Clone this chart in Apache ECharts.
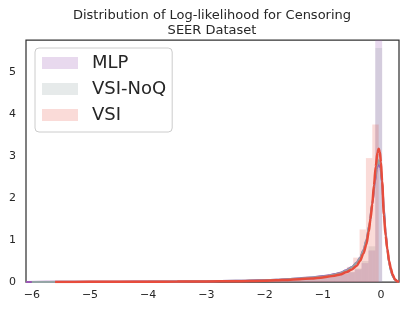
<!DOCTYPE html>
<html>
<head>
<meta charset="utf-8">
<script src="https://cdn.jsdelivr.net/npm/echarts@6/dist/echarts.min.js"></script>
<style>html,body{margin:0;padding:0;background:#fff;}#c{width:407px;height:312px;}</style>
</head>
<body>
<div id="c"></div>
<script>
// ---- data ----
const seriesNames = ['MLP', 'VSI-NoQ', 'VSI'];
const xTicks = [-6, -5, -4, -3, -2, -1, 0];
const yTicks = [0, 1, 2, 3, 4, 5];

// histogram bins (first edge, bin width) and densities (50 bins each)
const mlpBinStart = -5.9, mlpBinWidth = 0.1184;
const mlpHist = [0.003, 0, 0.004, 0.003, 0.005, 0.004, 0.006, 0.005, 0.007, 0.006,
  0.008, 0.007, 0.009, 0.01, 0.009, 0.011, 0.012, 0.012, 0.014, 0.013,
  0.015, 0.017, 0.016, 0.019, 0.021, 0.022, 0.025, 0.027, 0.03, 0.033,
  0.036, 0.04, 0.043, 0.048, 0.052, 0.058, 0.065, 0.073, 0.082, 0.095,
  0.11, 0.125, 0.14, 0.16, 0.19, 0.23, 0.3, 0.45, 0.75, 6.3];

const noqBinStart = -5.8, noqBinWidth = 0.1164;
const noqHist = [0.002, 0.003, 0, 0.004, 0.004, 0.005, 0.005, 0.006, 0.006, 0.007,
  0.007, 0.008, 0.009, 0.009, 0.01, 0.011, 0.012, 0.013, 0.013, 0.015,
  0.016, 0.017, 0.019, 0.02, 0.022, 0.024, 0.026, 0.029, 0.032, 0.035,
  0.038, 0.042, 0.046, 0.05, 0.055, 0.061, 0.068, 0.076, 0.085, 0.092,
  0.105, 0.12, 0.14, 0.16, 0.19, 0.24, 0.32, 0.5, 0.85, 5.57];

const vsiBinStart = -5.4, vsiBinWidth = 0.1094;
const vsiHist = [0.002, 0.002, 0.003, 0.003, 0.004, 0.004, 0.005, 0.005, 0.006, 0.006,
  0.007, 0.007, 0.008, 0.009, 0.009, 0.01, 0.011, 0.012, 0.013, 0.014,
  0.015, 0.016, 0.018, 0.02, 0.022, 0.024, 0.026, 0.028, 0.03, 0.033,
  0.037, 0.042, 0.047, 0.053, 0.06, 0.068, 0.077, 0.088, 0.1, 0.12,
  0.14, 0.16, 0.2, 0.26, 0.36, 0.58, 1.25, 2.95, 3.75, 0];

// KDE curves: [x, density]
const mlpKde = [[-6.1,0.001],[-5.5,0.004],[-5,0.006],[-4.5,0.008],[-4,0.01],[-3.5,0.014],[-3,0.02],[-2.5,0.03],
  [-2,0.045],[-1.8,0.055],[-1.6,0.07],[-1.4,0.09],[-1.2,0.11],[-1.0,0.14],[-0.9,0.16],[-0.8,0.19],[-0.7,0.22],
  [-0.6,0.28],[-0.5,0.36],[-0.42,0.46],[-0.36,0.58],[-0.3,0.76],[-0.25,1.0],[-0.2,1.35],[-0.15,1.85],[-0.1,2.4],
  [-0.07,2.7],[-0.04,2.83],[-0.01,2.72],[0.02,2.35],[0.05,1.75],[0.08,1.2],[0.11,0.78],[0.14,0.47],[0.17,0.28],
  [0.2,0.15],[0.24,0.06],[0.28,0.02],[0.31,0.01]];
const noqKde = [[-6.0,0.001],[-5.5,0.003],[-5,0.005],[-4.5,0.007],[-4,0.009],[-3.5,0.013],[-3,0.019],[-2.5,0.028],
  [-2,0.042],[-1.8,0.052],[-1.6,0.066],[-1.4,0.085],[-1.2,0.105],[-1.0,0.13],[-0.9,0.15],[-0.8,0.18],[-0.7,0.21],
  [-0.6,0.27],[-0.5,0.35],[-0.42,0.45],[-0.36,0.57],[-0.3,0.75],[-0.25,1.0],[-0.2,1.36],[-0.15,1.88],[-0.1,2.45],
  [-0.07,2.76],[-0.04,2.9],[-0.01,2.78],[0.02,2.38],[0.05,1.72],[0.08,1.16],[0.11,0.76],[0.14,0.46],[0.17,0.27],
  [0.2,0.14],[0.24,0.055],[0.28,0.018],[0.31,0.008]];
const vsiKde = [[-5.6,0],[-5,0.003],[-4.5,0.005],[-4,0.007],[-3.5,0.01],[-3,0.014],[-2.5,0.02],[-2,0.032],
  [-1.8,0.04],[-1.6,0.05],[-1.4,0.065],[-1.2,0.085],[-1.0,0.11],[-0.9,0.13],[-0.8,0.15],[-0.7,0.18],[-0.6,0.23],
  [-0.5,0.3],[-0.42,0.38],[-0.36,0.5],[-0.3,0.68],[-0.25,0.9],[-0.21,1.2],[-0.18,1.5],[-0.15,1.85],[-0.12,2.3],
  [-0.09,2.75],[-0.06,3.08],[-0.04,3.17],[-0.02,3.1],[0.0,2.85],[0.02,2.4],[0.05,1.6],[0.08,1.1],[0.11,0.78],
  [0.14,0.5],[0.17,0.32],[0.2,0.18],[0.24,0.06],[0.28,0.015],[0.31,0.005]];

// ---- styles ----
const FONT = 'DejaVu Sans';
const TXT = '#262626';
const lineColors = ['#9b59b6', '#95a5a6', '#e74c3c'];
const histColors = ['rgba(155,89,182,0.23)', 'rgba(149,165,166,0.23)', 'rgba(231,76,60,0.2)'];

function binData(start, width, heights) {
  return heights.map((h, i) => [start + i * width, start + (i + 1) * width, h]);
}

function histSeries(name, color, data) {
  return {
    name: name,
    type: 'custom',
    clip: true,
    itemStyle: { color: color },
    encode: { x: [0, 1], y: 2 },
    data: data,
    renderItem: function (params, api) {
      const p0 = api.coord([api.value(0), api.value(2)]);
      const p1 = api.coord([api.value(1), 0]);
      return {
        type: 'rect',
        shape: { x: p0[0], y: p0[1], width: p1[0] - p0[0], height: p1[1] - p0[1] },
        style: { fill: color }
      };
    }
  };
}

function kdeSeries(name, color, width, data) {
  return {
    name: name,
    type: 'line',
    data: data,
    showSymbol: false,
    smooth: 0.3,
    smoothMonotone: 'x',
    clip: true,
    lineStyle: { color: color, width: width },
    itemStyle: { color: color },
    silent: true
  };
}

const chart = echarts.init(document.getElementById('c'), null, { renderer: 'canvas' });
chart.setOption({
  animation: false,
  backgroundColor: '#ffffff',
  title: {
    text: 'Distribution of Log-likelihood for Censoring\nSEER Dataset',
    left: 207,
    textAlign: 'center',
    top: 3,
    textStyle: { fontFamily: FONT, fontSize: 13, fontWeight: 'normal', color: TXT, lineHeight: 15 }
  },
  legend: {
    orient: 'vertical',
    left: 35,
    top: 48,
    data: seriesNames,
    icon: 'rect',
    itemWidth: 36,
    itemHeight: 12,
    itemGap: 8,
    padding: [6, 6, 8, 7],
    backgroundColor: 'rgba(255,255,255,0.8)',
    borderColor: '#cccccc',
    borderWidth: 1,
    borderRadius: 4,
    textStyle: { fontFamily: FONT, fontSize: 18, color: TXT, padding: [0, 0, 0, 9] }
  },
  grid: {
    show: true,
    left: 26, right: 8, top: 40, bottom: 30,
    borderColor: '#333333',
    borderWidth: 1.25,
    backgroundColor: '#ffffff'
  },
  xAxis: {
    type: 'value',
    min: -6.1,
    max: 0.31,
    axisLine: { show: false },
    axisTick: { show: false },
    splitLine: { show: false },
    axisLabel: {
      customValues: xTicks,
      margin: 8,
      fontFamily: FONT, fontSize: 11, color: TXT,
      formatter: v => String(v).replace('-', '\u2212')
    }
  },
  yAxis: {
    type: 'value',
    min: 0,
    max: 5.76,
    axisLine: { show: false },
    axisTick: { show: false },
    splitLine: { show: false },
    axisLabel: {
      customValues: yTicks,
      margin: 10,
      fontFamily: FONT, fontSize: 11, color: TXT
    }
  },
  series: [
    histSeries('MLP', histColors[0], binData(mlpBinStart, mlpBinWidth, mlpHist)),
    kdeSeries('MLP kde', lineColors[0], 2, mlpKde),
    histSeries('VSI-NoQ', histColors[1], binData(noqBinStart, noqBinWidth, noqHist)),
    kdeSeries('VSI-NoQ kde', lineColors[1], 2, noqKde),
    histSeries('VSI', histColors[2], binData(vsiBinStart, vsiBinWidth, vsiHist)),
    kdeSeries('VSI kde', lineColors[2], 2.5, vsiKde)
  ]
});
</script>
</body>
</html>
